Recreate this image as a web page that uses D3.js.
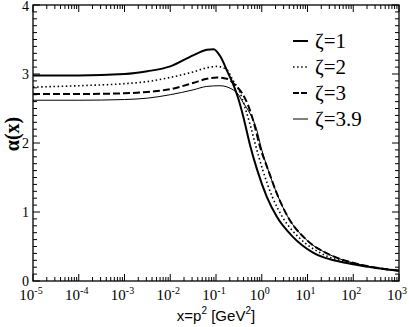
<!DOCTYPE html>
<html>
<head>
<meta charset="utf-8">
<script src="https://cdn.jsdelivr.net/npm/d3@7/dist/d3.min.js"></script>
<style>
  body { margin: 0; background: #fff; }
  svg { display: block; }
</style>
</head>
<body>
<div id="chart"></div>
<script>
// values
const x1 = [1e-5, 1e-4, 1e-3, 0.00316, 0.01, 0.0316, 0.0631, 0.0891, 0.123, 0.182, 0.234, 0.302, 0.389, 0.550, 0.794, 1.29, 2.14, 4.79, 13.2, 72.4, 316, 1000];
const a1 = [2.98, 2.98, 3.00, 3.04, 3.11, 3.27, 3.35, 3.36, 3.26, 3.02, 2.86, 2.66, 2.40, 1.98, 1.61, 1.22, 0.93, 0.64, 0.41, 0.26, 0.19, 0.15];

const x2 = [1e-5, 1e-4, 1e-3, 0.00316, 0.01, 0.0316, 0.0631, 0.105, 0.174, 0.234, 0.331, 0.427, 0.550, 0.724, 1.05, 1.70, 2.82, 6.76, 20, 100, 1000];
const a2 = [2.81, 2.83, 2.86, 2.89, 2.95, 3.03, 3.09, 3.11, 3.06, 2.91, 2.74, 2.52, 2.28, 1.98, 1.61, 1.22, 0.93, 0.62, 0.40, 0.25, 0.15];

const x3 = [1e-5, 1e-4, 1e-3, 0.00316, 0.01, 0.0316, 0.0631, 0.105, 0.174, 0.263, 0.372, 0.501, 0.661, 0.912, 1.38, 2.29, 3.72, 9.77, 30.9, 162, 1000];
const a3 = [2.71, 2.71, 2.72, 2.74, 2.78, 2.87, 2.93, 2.95, 2.93, 2.84, 2.72, 2.55, 2.31, 1.95, 1.61, 1.22, 0.93, 0.59, 0.38, 0.23, 0.15];

const x4 = [1e-5, 1e-4, 1e-3, 0.00316, 0.01, 0.0316, 0.0631, 0.123, 0.224, 0.302, 0.389, 0.550, 0.794, 0.955, 1.38, 2.29, 3.72, 9.77, 30.9, 162, 1000];
const a4 = [2.62, 2.62, 2.63, 2.65, 2.70, 2.77, 2.82, 2.83, 2.78, 2.71, 2.59, 2.43, 2.17, 1.95, 1.61, 1.22, 0.93, 0.59, 0.38, 0.23, 0.15];

const seriesNames = ["ζ=1", "ζ=2", "ζ=3", "ζ=3.9"];
const xTickExps = [-5, -4, -3, -2, -1, 0, 1, 2, 3];
const yTicks = [0, 1, 2, 3, 4];

const W = 409, H = 327;
const m = {left: 33, right: 10, top: 5, bottom: 46};

const svg = d3.select("#chart").append("svg")
  .attr("width", W).attr("height", H);

const x = d3.scaleLog().domain([1e-5, 1e3]).range([m.left, W - m.right]);
const y = d3.scaleLinear().domain([0, 4]).range([H - m.bottom, m.top]);

const styles = [
  {width: 2, dash: null},
  {width: 1.6, dash: "1.5,2.6"},
  {width: 2, dash: "7,3"},
  {width: 1, dash: null}
];

// minor ticks
const minorX = [];
for (let e = -5; e < 3; e++) for (let k = 2; k <= 9; k++) minorX.push(k * Math.pow(10, e));
const minorY = d3.range(0, 4.001, 0.1).filter(v => Math.abs(v - Math.round(v)) > 1e-6);

const g = svg.append("g").attr("stroke", "#000").attr("stroke-width", 1);
const yBot = y(0), yTop = y(4), xL = x(1e-5), xR = x(1e3);

// frame
g.append("rect").attr("x", xL).attr("y", yTop)
  .attr("width", xR - xL).attr("height", yBot - yTop)
  .attr("fill", "none").attr("stroke-width", 1.3);

xTickExps.forEach(e => {
  const px = x(Math.pow(10, e));
  g.append("line").attr("x1", px).attr("x2", px).attr("y1", yBot).attr("y2", yBot - 7);
  g.append("line").attr("x1", px).attr("x2", px).attr("y1", yTop).attr("y2", yTop + 7);
});
minorX.forEach(v => {
  const px = x(v);
  g.append("line").attr("x1", px).attr("x2", px).attr("y1", yBot).attr("y2", yBot - 4);
  g.append("line").attr("x1", px).attr("x2", px).attr("y1", yTop).attr("y2", yTop + 4);
});
yTicks.forEach(v => {
  const py = y(v);
  g.append("line").attr("x1", xL).attr("x2", xL + 7).attr("y1", py).attr("y2", py);
  g.append("line").attr("x1", xR).attr("x2", xR - 7).attr("y1", py).attr("y2", py);
});
minorY.forEach(v => {
  const py = y(v);
  g.append("line").attr("x1", xL).attr("x2", xL + 4).attr("y1", py).attr("y2", py);
  g.append("line").attr("x1", xR).attr("x2", xR - 4).attr("y1", py).attr("y2", py);
});

// tick labels
const serif = "'Liberation Serif', 'DejaVu Serif', serif";
yTicks.forEach(v => {
  svg.append("text").attr("x", xL - 4).attr("y", y(v) + (v === 4 ? 6 : 4.5))
    .attr("text-anchor", "end").attr("font-family", serif).attr("font-size", 14)
    .text(v);
});
xTickExps.forEach(e => {
  const t = svg.append("text").attr("x", x(Math.pow(10, e)) - 2).attr("y", 300)
    .attr("text-anchor", "middle").attr("font-family", serif).attr("font-size", 15);
  t.append("tspan").text("10");
  t.append("tspan").attr("dy", -6).attr("font-size", 10).text(e);
});

// axis titles
const xt = svg.append("text").attr("x", 216).attr("y", 321)
  .attr("text-anchor", "middle").attr("font-family", "'Liberation Sans', Arial, sans-serif")
  .attr("font-size", 15);
xt.append("tspan").text("x=p");
xt.append("tspan").attr("dy", -7).attr("font-size", 10).text("2");
xt.append("tspan").attr("dy", 7).text(" [GeV");
xt.append("tspan").attr("dy", -7).attr("font-size", 10).text("2");
xt.append("tspan").attr("dy", 7).text("]");

svg.append("text")
  .attr("transform", "translate(19,134) rotate(-90)")
  .attr("text-anchor", "middle").attr("font-family", serif)
  .attr("font-size", 20).attr("font-weight", "bold")
  .text("α(x)");

// curves
const line = d3.line().x(d => x(d[0])).y(d => y(d[1])).curve(d3.curveMonotoneX);
const data = [[x1, a1], [x2, a2], [x3, a3], [x4, a4]];
data.forEach(([xs, as], i) => {
  svg.append("path")
    .datum(xs.map((v, j) => [v, as[j]]))
    .attr("d", line)
    .attr("fill", "none").attr("stroke", "#000")
    .attr("stroke-width", styles[i].width)
    .attr("stroke-dasharray", styles[i].dash);
});

// legend
const leg = svg.append("g");
seriesNames.forEach((name, i) => {
  const cy = 41 + i * 26;
  leg.append("line").attr("x1", 293).attr("x2", 308).attr("y1", cy).attr("y2", cy)
    .attr("stroke", "#000").attr("stroke-width", styles[i].width)
    .attr("stroke-dasharray", i === 2 ? "6,2" : styles[i].dash);
  leg.append("text").attr("x", 315).attr("y", cy + 7)
    .attr("font-family", serif).attr("font-size", 21).text(name);
});
</script>
</body>
</html>
